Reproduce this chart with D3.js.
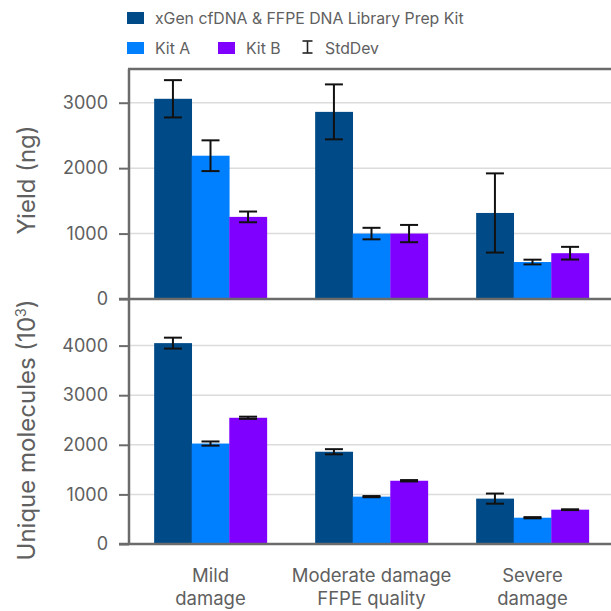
<!DOCTYPE html>
<html>
<head>
<meta charset="utf-8">
<script src="https://cdn.jsdelivr.net/npm/d3@7"></script>
<style>
  html, body { margin: 0; padding: 0; background: #fff; }
  svg { display: block; font-family: Inter, "Noto Sans", Roboto, sans-serif; }
</style>
</head>
<body>
<svg id="chart" width="611" height="611"></svg>
<script>
// Sample conditions and library prep kits
const groups = ["Mild damage", "Moderate damage FFPE quality", "Severe damage"];
const groupLines = [["Mild", "damage"], ["Moderate damage", "FFPE quality"], ["Severe", "damage"]];
const kits = ["xGen cfDNA & FFPE DNA Library Prep Kit", "Kit A", "Kit B"];
const kitColors = ["#004B87", "#0080FF", "#8000FF"];

// Library yield (ng): mean and standard deviation per condition, per kit
const yieldXGen = [3060, 2860, 1315];
const yieldKitA = [2190, 1000, 565];
const yieldKitB = [1255, 1000, 700];
const yieldSdXGen = [285, 420, 605];
const yieldSdKitA = [235, 88, 36];
const yieldSdKitB = [82, 132, 97];

// Unique molecules (10^3): mean and standard deviation
const molXGen = [4050, 1860, 915];
const molKitA = [2025, 955, 530];
const molKitB = [2545, 1275, 692];
const molSdXGen = [110, 52, 102];
const molSdKitA = [42, 12, 12];
const molSdKitB = [22, 14, 8];

const yieldTicks = [0, 1000, 2000, 3000];
const molTicks = [0, 1000, 2000, 3000, 4000];

const svg = d3.select("#chart");
const axisColor = "#6b6b6b";
const textColor = "#606060";
const gridColor = "#dcdcdc";

const x0 = d3.scaleBand().domain(groups).range([130, 613]).paddingInner(0.3).paddingOuter(0.15);
const x1 = d3.scaleBand().domain(kits).range([0, x0.bandwidth()]);

const left = 129, right = 611;

function panel(cfg) {
  const y = d3.scaleLinear().domain(cfg.domain).range(cfg.range);
  const g = svg.append("g");

  // horizontal gridlines
  g.append("g").selectAll("line").data(cfg.ticks.filter(t => t > 0)).join("line")
    .attr("x1", left).attr("x2", right)
    .attr("y1", d => y(d)).attr("y2", d => y(d))
    .attr("stroke", gridColor).attr("stroke-width", 1.5);

  // bars
  const rows = groups.map((grp, i) => kits.map((k, j) => ({
    grp, kit: k, v: cfg.values[j][i], sd: cfg.sds[j][i], color: kitColors[j]
  })));
  const gg = g.append("g").selectAll("g").data(rows).join("g")
    .attr("transform", (d, i) => `translate(${x0(groups[i])},0)`);
  gg.selectAll("rect").data(d => d).join("rect")
    .attr("x", d => x1(d.kit))
    .attr("width", x1.bandwidth() + 0.3)
    .attr("y", d => y(d.v))
    .attr("height", d => y(0) - y(d.v))
    .attr("fill", d => d.color);

  // error bars
  const cap = 9;
  const eb = gg.selectAll("g.eb").data(d => d).join("g").attr("class", "eb")
    .attr("stroke", "#111").attr("stroke-width", 2);
  eb.append("line")
    .attr("x1", d => x1(d.kit) + x1.bandwidth() / 2).attr("x2", d => x1(d.kit) + x1.bandwidth() / 2)
    .attr("y1", d => y(d.v + d.sd)).attr("y2", d => y(d.v - d.sd));
  eb.append("line")
    .attr("x1", d => x1(d.kit) + x1.bandwidth() / 2 - cap).attr("x2", d => x1(d.kit) + x1.bandwidth() / 2 + cap)
    .attr("y1", d => y(d.v + d.sd)).attr("y2", d => y(d.v + d.sd));
  eb.append("line")
    .attr("x1", d => x1(d.kit) + x1.bandwidth() / 2 - cap).attr("x2", d => x1(d.kit) + x1.bandwidth() / 2 + cap)
    .attr("y1", d => y(d.v - d.sd)).attr("y2", d => y(d.v - d.sd));

  // left axis
  const ax = g.append("g").attr("transform", `translate(${left},0)`)
    .call(d3.axisLeft(y).tickValues(cfg.ticks).tickSize(10).tickPadding(11).tickFormat(d3.format("d")));
  ax.select(".domain").remove();
  ax.selectAll(".tick line").attr("stroke", axisColor).attr("stroke-width", 2);
  ax.selectAll(".tick text").attr("fill", textColor).attr("font-size", 18)
    .attr("font-family", "Inter, sans-serif");

  // baseline
  g.append("line").attr("x1", left - 10).attr("x2", right)
    .attr("y1", y(0)).attr("y2", y(0))
    .attr("stroke", axisColor).attr("stroke-width", 2.5);

  // axis title
  const cy = cfg.titleY;
  const t = g.append("text")
    .attr("transform", `translate(35,${cy}) rotate(-90)`)
    .attr("text-anchor", "middle")
    .attr("fill", textColor).attr("font-size", 24);
  cfg.title(t);
  return y;
}

const yYield = panel({
  domain: [0, 3500], range: [299, 70], ticks: yieldTicks,
  values: [yieldXGen, yieldKitA, yieldKitB],
  sds: [yieldSdXGen, yieldSdKitA, yieldSdKitB],
  titleY: 180,
  title: t => t.text("Yield (ng)")
});

const yMol = panel({
  domain: [0, 5000], range: [544, 296], ticks: molTicks,
  values: [molXGen, molKitA, molKitB],
  sds: [molSdXGen, molSdKitA, molSdKitB],
  titleY: 430,
  title: t => {
    t.append("tspan").text("Unique molecules (10");
    t.append("tspan").text("3").attr("font-size", 14).attr("dy", -9);
    t.append("tspan").text(")").attr("dy", 9);
  }
});

// outer frame: left spine and top edge
svg.append("line").attr("x1", left).attr("x2", left).attr("y1", 69).attr("y2", 545)
  .attr("stroke", axisColor).attr("stroke-width", 2.5);
svg.append("line").attr("x1", left - 1).attr("x2", right).attr("y1", 69).attr("y2", 69)
  .attr("stroke", axisColor).attr("stroke-width", 2.5);

// category labels
const xl = svg.append("g");
groups.forEach((grp, i) => {
  const cx = x0(grp) + x0.bandwidth() / 2;
  const t = xl.append("text").attr("text-anchor", "middle").attr("fill", textColor).attr("font-size", 18.5);
  groupLines[i].forEach((ln, k) => {
    t.append("tspan").attr("x", cx).attr("y", 582 + k * 23).text(ln);
  });
});

// legend
const lg = svg.append("g").attr("font-size", 15.8).attr("fill", textColor);
const legendItems = [
  { label: kits[0], color: kitColors[0], x: 127, y: 12 },
  { label: kits[1], color: kitColors[1], x: 127, y: 42 },
  { label: kits[2], color: kitColors[2], x: 218, y: 42 }
];
legendItems.forEach(d => {
  lg.append("rect").attr("x", d.x).attr("y", d.y).attr("width", 17).attr("height", 12).attr("fill", d.color);
  lg.append("text").attr("x", d.x + 28).attr("y", d.y + 11.5).text(d.label);
});
// std-dev glyph
const ix = 307.5;
const ig = lg.append("g").attr("stroke", "#222").attr("stroke-width", 1.6);
ig.append("line").attr("x1", ix).attr("x2", ix).attr("y1", 41).attr("y2", 53);
ig.append("line").attr("x1", ix - 5).attr("x2", ix + 5).attr("y1", 41).attr("y2", 41);
ig.append("line").attr("x1", ix - 5).attr("x2", ix + 5).attr("y1", 53).attr("y2", 53);
lg.append("text").attr("x", 325).attr("y", 53.5).text("StdDev");
</script>
</body>
</html>
